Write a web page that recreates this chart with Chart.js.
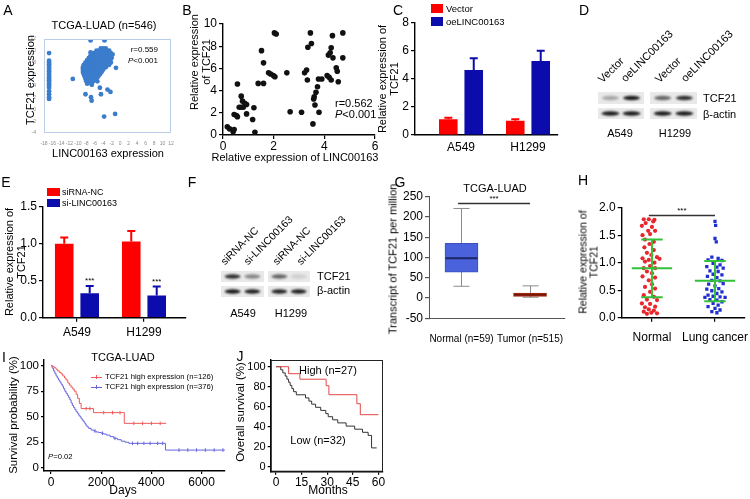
<!DOCTYPE html>
<html>
<head>
<meta charset="utf-8">
<script src="https://cdn.jsdelivr.net/npm/chart.js@4.4.0/dist/chart.umd.min.js"></script>
<style>
body { margin: 0; background: #fff; }
#fig { position: relative; width: 750px; height: 499px; overflow: hidden; font-family: "Liberation Sans", Arial, sans-serif; color: #000; }
#fig canvas { position: absolute; }
.t { position: absolute; white-space: nowrap; line-height: 1; text-align: center; }
</style>
</head>
<body>
<div id="fig"></div>
<script>
// ---------- data ----------

// A: TCGA scatter (LINC00163 vs TCF21)
const aColumnX = -16.8;
const aColumnY = [9.6, 8.3, 8.0, 7.7, 7.4, 7.1, 6.8, 6.5, 6.2, 5.9, 5.6, 5.3, 5.0, 4.7, 4.4, 4.1, 3.7, 3.1, 2.6, 2.1, 1.8];
const aRows = [
    [10.4, [-4.6, -4.0, -3.4]],
    [10.0, [-5.6, -5.0, -4.4, -3.8, -3.2, -2.6]],
    [9.6, [-6.4, -5.8, -5.2, -4.6, -4.0, -3.4, -2.8, -2.2]],
    [9.2, [-7.0, -6.4, -5.8, -5.2, -4.6, -4.0, -3.4, -2.8, -2.2]],
    [8.8, [-7.4, -6.8, -6.2, -5.6, -5.0, -4.4, -3.8, -3.2, -2.6, -2.0]],
    [8.4, [-7.8, -7.2, -6.6, -6.0, -5.4, -4.8, -4.2, -3.6, -3.0, -2.4]],
    [8.0, [-8.2, -7.6, -7.0, -6.4, -5.8, -5.2, -4.6, -4.0, -3.4, -2.8, -2.2]],
    [7.6, [-8.6, -8.0, -7.4, -6.8, -6.2, -5.6, -5.0, -4.4, -3.8, -3.2, -2.6]],
    [7.2, [-8.8, -8.2, -7.6, -7.0, -6.4, -5.8, -5.2, -4.6, -4.0, -3.4]],
    [6.8, [-8.8, -8.2, -7.6, -7.0, -6.4, -5.8, -5.2, -4.6, -4.0]],
    [6.4, [-8.8, -8.2, -7.6, -7.0, -6.4, -5.8, -5.2, -4.4]],
    [6.0, [-8.6, -8.0, -7.4, -6.8, -6.2, -5.6, -4.8]],
    [5.6, [-8.4, -7.8, -7.2, -6.6, -6.0, -5.2]],
    [5.2, [-8.2, -7.6, -7.0, -6.4, -5.6]],
    [4.8, [-8.0, -7.2, -6.4, -5.4]],
    [4.4, [-7.8, -6.8]]
];
const aOutliers = [
    [-7.0, 11.75], [-3.7, 11.75], [-7.0, 9.7], [-1.8, 9.4], [-1.0, 7.1], [-11.2, 5.2],
    [-8.2, 2.6], [-6.9, 2.1], [-6.75, 1.5], [-4.55, 2.6], [-4.8, 3.7], [-3.0, 3.4],
    [-2.3, 3.0], [-3.8, -1.2], [-1.2, -0.75], [-7.15, 4.7], [-6.7, 4.2]
];

// B: qPCR scatter
const bX = [0.17, 0.26, 0.4, 0.44, 0.44, 0.53, 0.57, 0.57, 0.64, 0.72, 0.72, 0.8, 0.77, 0.86, 0.93, 0.93,
    1.17, 1.22, 1.26, 1.39, 1.6, 1.6, 1.52, 1.8, 1.88, 1.99, 2.05, 2.03, 2.1, 2.52, 2.65, 3.1, 3.22,
    3.3, 3.33, 3.35, 3.45, 3.49, 3.55, 3.58, 3.6, 3.63, 3.67, 3.73, 3.77, 3.79, 3.9, 4.11, 4.19, 4.16,
    4.23, 4.27, 4.27, 4.32, 4.34, 4.47, 4.51, 4.55, 4.73, 4.73];
const bY = [0.75, 0.55, 0.3, 0.5, 1.85, 1.75, 1.65, 4.6, 2.5, 2.5, 3.5, 2.5, 3.05, 2.85, 2.75, 1.9,
    1.4, 2.45, 0.25, 4.65, 4.65, 6.5, 7.6, 5.6, 5.5, 5.35, 5.25, 9.2, 9.1, 5.6, 2.1, 2.05, 5.6,
    5.85, 4.95, 7.9, 9.2, 8.25, 1.0, 3.25, 3.45, 2.7, 3.85, 4.35, 5.05, 2.05, 5.05, 5.35, 5.2, 7.2,
    7.4, 7.85, 4.95, 8.95, 6.95, 6.05, 5.75, 4.8, 9.2, 6.95];

// C: overexpression bars
const cGroups = ['A549', 'H1299'];
const cSeries = ['Vector', 'oeLINC00163'];
const cColors = ['#ff0000', '#0c0cad'];
const cMeans = [[1.12, 1.02], [4.63, 5.27]];
const cErrors = [[0.1, 0.1], [0.83, 0.74]];

// E: knockdown bars
const eGroups = ['A549', 'H1299'];
const eSeries = ['siRNA-NC', 'si-LINC00163'];
const eColors = ['#ff0000', '#0c0cad'];
const eMeans = [[1.0, 1.03], [0.33, 0.3]];
const eErrors = [[0.085, 0.14], [0.1, 0.12]];
const eStars = [['', ''], ['***', '***']];

// G: TCGA box plot
const gGroups = ['Normal (n=59)', 'Tumor (n=515)'];
const gMin = [29, 2];
const gQ1 = [64, 4];
const gMedian = [98, 8];
const gQ3 = [135, 12.5];
const gMax = [221, 30];

// H: scatter dot plot, mean +/- SD
const hGroups = ['Normal', 'Lung cancer'];
const hNormal = [1.79, 1.79, 1.78, 1.72, 1.75, 1.67, 1.65, 1.58, 1.58, 1.5, 1.52, 1.42, 1.38, 1.34, 1.28, 1.23, 1.18,
    1.14, 1.08, 1.1, 1.05, 1.02, 1.0, 1.07, 0.94, 0.9, 0.9, 0.84, 0.81, 0.75, 0.73, 0.68, 0.61, 0.56, 0.53,
    0.47, 0.41, 0.38, 0.33, 0.32, 0.26, 0.25, 0.2, 0.19, 0.15, 0.13, 0.11, 0.09, 0.08, 0.07];
const hNormalJitter = [-0.13, -0.05, 0.04, -0.1, 0.02, -0.16, 0, -0.06, 0.05, -0.15, -0.03, -0.11, 0.03, -0.04,
    -0.12, 0.03, -0.08, -0.01, -0.15, 0.08, -0.05, -0.11, 0.04, 0.12, -0.03, -0.13, 0.05, -0.08, 0, -0.15, 0.05,
    -0.05, 0, -0.11, 0.05, -0.03, -0.13, 0.03, -0.08, 0.08, -0.16, -0.03, 0.05, -0.11, -0.05, 0.03, -0.13, -0.01,
    0.08, -0.08];
const hCancer = [1.75, 1.68, 1.44, 1.38, 1.1, 1.08, 1.05, 1.04, 0.99, 0.96, 0.93, 0.92, 0.9, 0.85, 0.84, 0.79,
    0.78, 0.75, 0.73, 0.68, 0.67, 0.62, 0.61, 0.58, 0.53, 0.52, 0.49, 0.47, 0.44, 0.41, 0.39, 0.38, 0.37, 0.37,
    0.33, 0.32, 0.29, 0.26, 0.23, 0.2, 0.17, 0.14, 0.11, 0.09];
const hCancerJitter = [0, 0.01, 0, 0.02, -0.05, 0.05, -0.11, 0.11, -0.03, 0.08, -0.13, 0.03, 0.13, -0.08, 0.05,
    -0.03, 0.11, -0.12, 0.03, -0.05, 0.08, 0.13, -0.1, 0, 0.06, -0.13, -0.05, 0.11, 0.03, -0.11, -0.03, 0.08,
    -0.16, 0.16, -0.08, 0.03, 0.11, -0.03, 0.05, -0.11, 0, 0.08, -0.05, 0.03];
const hMean = [0.9, 0.67];
const hSdLow = [0.37, 0.3];
const hSdHigh = [1.42, 1.03];

// I: TCGA Kaplan-Meier (days, %)
const iHighT = [0, 60, 130, 200, 260, 330, 400, 470, 540, 600, 670, 730, 800, 870, 930, 1000, 1060, 1130, 1200, 1690, 2920, 4590];
const iHighS = [100, 99, 98, 96.5, 95, 93.5, 92, 90, 88, 86, 83, 81, 79, 77, 75, 72, 68, 63, 58, 54, 43.5, 43.5];
const iLowT = [0, 50, 100, 150, 200, 250, 300, 350, 400, 450, 500, 550, 600, 650, 700, 750, 800, 850, 900, 950, 1000,
    1050, 1100, 1150, 1200, 1250, 1300, 1350, 1400, 1450, 1500, 1600, 1700, 1800, 1900, 2000, 2100, 2200, 2350,
    2500, 2650, 2800, 2950, 3100, 4560, 6930];
const iLowS = [100, 97.5, 95, 92.5, 90, 88, 86, 84, 82, 80, 77.5, 75, 73, 71, 69, 66.5, 63.5, 61, 59, 57, 55,
    53.5, 51.5, 50, 48, 46.5, 45, 43, 41, 40, 38.6, 37, 36, 35, 34.5, 33.8, 33, 32, 30.5, 28.8, 27.5, 26, 25,
    23.9, 17.3, 17.3];
const iHighCensor = [1400, 1550, 2100, 2450, 2750, 3300, 3650, 4000, 4350];
const iLowCensor = [1750, 2050, 2550, 3250, 3450, 3700, 3950, 4250, 4450, 5100, 5450, 5800, 6150, 6500, 6850];
const iSeries = ['TCF21 high expression (n=126)', 'TCF21 high expression (n=376)'];
const iTicksX = [0, 2000, 4000, 6000];
const iTicksY = [0, 25, 50, 75, 100];

// J: cohort Kaplan-Meier (months, %)
const jHighT = [0, 7.4, 14, 29.4, 31, 47.4, 49.4, 60];
const jHighS = [100, 93, 87.5, 81, 72, 63, 52, 52];
const jLowT = [0, 2.8, 4.0, 5.4, 6.4, 7.4, 8.3, 9.3, 10.3, 11.9, 17.3, 19.3, 20.9, 23.2, 26.2, 29.2, 30.6, 33.2,
    36.2, 41.1, 46.1, 50.7, 54.0, 56.0, 59.0];
const jLowS = [100, 96.9, 93.8, 90.6, 87.5, 84.4, 81.3, 78.1, 75.0, 71.9, 68.8, 65.6, 62.5, 59.4, 56.3, 53.1,
    50.0, 46.9, 43.8, 40.6, 37.5, 34.4, 31.3, 18.8, 18.8];
const jTicksX = [0, 15, 30, 45, 60];
const jTicksY = [0, 20, 40, 60, 80, 100];

// western blot band intensities (lanes left to right)
const dTcf21 = [0.3, 0.95, 0.6, 0.85];
const dActin = [0.95, 0.95, 0.95, 0.95];
const fTcf21 = [0.85, 0.45, 0.6, 0.12];
const fActin = [0.95, 0.92, 0.9, 0.92];

// ---------- helpers ----------
const fig = document.getElementById('fig');
const FONT = '"Liberation Sans", Arial, sans-serif';

Chart.defaults.font.family = FONT;
Chart.defaults.color = '#000';
Chart.defaults.animation = false;
Chart.defaults.responsive = false;
Chart.defaults.devicePixelRatio = 1;
Chart.defaults.plugins.legend.display = false;
Chart.defaults.plugins.tooltip.enabled = false;

function label(html, x, y, size, opt = {}) {
    const d = document.createElement('div');
    d.className = 't';
    d.innerHTML = html;
    d.style.fontSize = size + 'px';
    if (opt.lh) d.style.lineHeight = opt.lh + 'px';
    d.style.left = x + 'px';
    d.style.top = y + 'px';
    const ax = opt.align === 'left' ? '0' : opt.align === 'right' ? '-100%' : '-50%';
    d.style.transform = `translate(${ax},-50%)` + (opt.rot ? ` rotate(${opt.rot}deg)` : '');
    fig.appendChild(d);
}

function slant(text, x, y, size) {
    const d = document.createElement('div');
    d.className = 't';
    d.textContent = text;
    d.style.fontSize = size + 'px';
    d.style.left = x + 'px';
    d.style.top = (y - size) + 'px';
    d.style.transformOrigin = '0 100%';
    d.style.transform = 'rotate(-45deg)';
    fig.appendChild(d);
}

function swatch(x, y, w, h, color) {
    const d = document.createElement('div');
    d.style.cssText = `position:absolute;left:${x}px;top:${y}px;width:${w}px;height:${h}px;background:${color}`;
    fig.appendChild(d);
}

function axis(min, max, o = {}) {
    return {
        type: 'linear', min, max, offset: false,
        grid: { display: o.grid !== false, drawOnChartArea: false, drawTicks: true, tickLength: o.tl ?? 4,
            color: o.color || '#000', lineWidth: 1.2, offset: false },
        border: { display: o.border !== false, color: o.color || '#000', width: o.bw ?? 1.4 },
        ticks: { autoSkip: false, maxRotation: 0, padding: o.pad ?? 2, color: o.tc || '#000',
            font: { size: o.fs || 11 }, stepSize: o.step, callback: o.cb },
        afterBuildTicks: o.ticks ? s => { s.ticks = o.ticks.map(v => ({ value: v })); } : undefined
    };
}

// box = canvas [x, y, w, h]; area = plot area [left, top, right, bottom], page pixels
function place(box, area, config) {
    const cv = document.createElement('canvas');
    cv.width = box[2];
    cv.height = box[3];
    cv.style.left = box[0] + 'px';
    cv.style.top = box[1] + 'px';
    fig.appendChild(cv);
    const o = config.options;
    o.layout = { padding: { left: 0, top: area[1] - box[1], right: box[0] + box[2] - area[2], bottom: 0 } };
    o.scales.x.afterFit = s => { s.height = box[1] + box[3] - area[3]; s.paddingLeft = 0; s.paddingRight = 0; };
    o.scales.y.afterFit = s => { s.width = area[0] - box[0]; s.paddingTop = 0; s.paddingBottom = 0; };
    return new Chart(cv, config);
}

const frame = color => ({
    id: 'frame',
    afterDraw(chart) {
        const { ctx, chartArea: a } = chart;
        ctx.save();
        ctx.strokeStyle = color;
        ctx.lineWidth = 1;
        ctx.strokeRect(a.left + 0.5, a.top + 0.5, a.right - a.left - 1, a.bottom - a.top - 1);
        ctx.restore();
    }
});

const errorBars = (errs, stars) => ({
    id: 'errorBars',
    afterDatasetsDraw(chart) {
        const { ctx } = chart;
        const y = chart.scales.y;
        chart.data.datasets.forEach((ds, di) => {
            chart.getDatasetMeta(di).data.forEach((bar, i) => {
                const top = y.getPixelForValue(ds.data[i].y + errs[di][i]);
                ctx.save();
                ctx.strokeStyle = ds.backgroundColor;
                ctx.lineWidth = 2;
                ctx.beginPath();
                ctx.moveTo(bar.x, bar.y);
                ctx.lineTo(bar.x, top);
                ctx.moveTo(bar.x - 4, top);
                ctx.lineTo(bar.x + 4, top);
                ctx.stroke();
                if (stars && stars[di][i]) {
                    ctx.fillStyle = '#000';
                    ctx.font = '8px ' + FONT;
                    ctx.textAlign = 'center';
                    ctx.fillText(stars[di][i], bar.x, top - 3);
                }
                ctx.restore();
            });
        });
    }
});

const sigBar = (from, to, at, text) => ({
    id: 'sigBar',
    afterDatasetsDraw(chart) {
        const { ctx, scales: { x, y } } = chart;
        const py = Math.round(y.getPixelForValue(at)) + 0.5;
        ctx.save();
        ctx.strokeStyle = '#333';
        ctx.lineWidth = 1.3;
        ctx.beginPath();
        ctx.moveTo(x.getPixelForValue(from), py);
        ctx.lineTo(x.getPixelForValue(to), py);
        ctx.stroke();
        ctx.fillStyle = '#000';
        ctx.font = '8px ' + FONT;
        ctx.textAlign = 'center';
        ctx.fillText(text, (x.getPixelForValue(from) + x.getPixelForValue(to)) / 2, py - 3);
        ctx.restore();
    }
});

const whiskers = {
    id: 'whiskers',
    beforeDatasetsDraw(chart) {
        const { ctx, scales: { x, y } } = chart;
        ctx.save();
        ctx.strokeStyle = '#8a8a8a';
        ctx.lineWidth = 1;
        gMin.forEach((lo, i) => {
            const px = Math.round(x.getPixelForValue(i)) + 0.5;
            const yl = y.getPixelForValue(lo), yh = y.getPixelForValue(gMax[i]);
            ctx.beginPath();
            ctx.moveTo(px, yl); ctx.lineTo(px, yh);
            ctx.moveTo(px - 8, yl); ctx.lineTo(px + 8, yl);
            ctx.moveTo(px - 8, yh); ctx.lineTo(px + 8, yh);
            ctx.stroke();
        });
        ctx.restore();
    },
    afterDatasetsDraw(chart) {
        const { ctx, scales: { x, y } } = chart;
        const colors = ['#1c2566', '#7a1505'];
        ctx.save();
        ctx.lineWidth = 2;
        gMedian.forEach((m, i) => {
            const px = x.getPixelForValue(i), py = y.getPixelForValue(m);
            ctx.strokeStyle = colors[i];
            ctx.beginPath();
            ctx.moveTo(px - 16, py); ctx.lineTo(px + 16, py);
            ctx.stroke();
        });
        ctx.restore();
    }
};

const meanSd = {
    id: 'meanSd',
    afterDatasetsDraw(chart) {
        const { ctx, scales: { x, y } } = chart;
        const unit = x.getPixelForValue(1) - x.getPixelForValue(0);
        ctx.save();
        ctx.strokeStyle = '#33c03a';
        ctx.lineWidth = 2;
        hMean.forEach((m, i) => {
            const px = x.getPixelForValue(i);
            const lo = y.getPixelForValue(hSdLow[i]), hi = y.getPixelForValue(hSdHigh[i]);
            const my = y.getPixelForValue(m);
            ctx.beginPath();
            ctx.moveTo(px, lo); ctx.lineTo(px, hi);
            ctx.moveTo(px - unit * 0.17, lo); ctx.lineTo(px + unit * 0.17, lo);
            ctx.moveTo(px - unit * 0.17, hi); ctx.lineTo(px + unit * 0.17, hi);
            ctx.moveTo(px - unit * 0.32, my); ctx.lineTo(px + unit * 0.32, my);
            ctx.stroke();
        });
        ctx.restore();
    }
};

const toPoints = (xs, ys) => xs.map((v, k) => ({ x: v, y: ys[k] }));
// survival value of a step curve at time t (for the censor ticks)
const survAt = (ts, ss, t) => {
    let s = ss[0];
    ts.forEach((v, k) => { if (v <= t) s = ss[k]; });
    return s;
};

// ---------- A ----------
const aPoints = aColumnY.map(v => ({ x: aColumnX, y: v }))
    .concat(aRows.flatMap(([y, xs]) => xs.map(v => ({ x: v, y }))))
    .concat(aOutliers.map(([x, y]) => ({ x, y })));
place([0, 20, 190, 145], [44, 39, 171, 133], {
    type: 'scatter',
    data: { datasets: [{ data: aPoints, backgroundColor: '#3b7dcc', borderWidth: 0, pointRadius: 2.4 }] },
    options: {
        scales: {
            x: axis(-18, 12, { step: 2, grid: false, border: false, fs: 5, tc: '#8a8a8a', pad: 4 }),
            y: axis(-4, 12, { step: 2, grid: false, border: false, fs: 5, tc: '#8a8a8a', pad: 4 })
        }
    },
    plugins: [frame('#b9cde6')]
});

// ---------- B ----------
place([178, 10, 202, 150], [223, 24, 375, 135], {
    type: 'scatter',
    data: { datasets: [{ data: toPoints(bX, bY), backgroundColor: '#111', borderWidth: 0, pointRadius: 2.8 }] },
    options: {
        scales: {
            x: axis(0, 6, { step: 2, fs: 12, pad: 0 }),
            y: axis(0, 10, { step: 2, fs: 12 })
        }
    }
});

// ---------- C ----------
place([370, 10, 195, 150], [415, 22.7, 558, 135], {
    type: 'bar',
    data: {
        datasets: cSeries.map((s, k) => ({
            label: s, backgroundColor: cColors[k],
            data: cGroups.map((g, i) => ({ x: i, y: cMeans[k][i] }))
        }))
    },
    options: {
        categoryPercentage: 0.76, barPercentage: 0.73,
        scales: {
            x: axis(-0.687, 1.448, { grid: false, ticks: [0, 1], cb: v => cGroups[v], fs: 12, pad: 1 }),
            y: axis(0, 8, { step: 2, fs: 12 })
        }
    },
    plugins: [errorBars(cErrors)]
});

// ---------- E ----------
place([0, 190, 195, 150], [43, 206.7, 186, 317.7], {
    type: 'bar',
    data: {
        datasets: eSeries.map((s, k) => ({
            label: s, backgroundColor: eColors[k],
            data: eGroups.map((g, i) => ({ x: i, y: eMeans[k][i] }))
        }))
    },
    options: {
        categoryPercentage: 0.76, barPercentage: 0.73,
        scales: {
            x: axis(-0.507, 1.627, { ticks: [0, 1], cb: v => eGroups[v], fs: 12, pad: 4 }),
            y: axis(0, 1.5, { step: 0.5, fs: 12, cb: v => v.toFixed(1) })
        }
    },
    plugins: [errorBars(eErrors, eStars)]
});

// ---------- G ----------
place([380, 185, 195, 160], [429, 196.7, 565, 318.3], {
    type: 'bar',
    data: {
        datasets: [{
            data: gGroups.map((g, i) => ({ x: i, y: [gQ1[i], gQ3[i]] })),
            backgroundColor: ['#4a62dc', '#c8401c'],
            borderColor: ['#3a50c0', '#9a2a10'],
            borderWidth: 1, borderSkipped: false, barThickness: 33
        }]
    },
    options: {
        scales: {
            x: axis(-0.474, 1.51, { grid: false, ticks: [0, 1], cb: v => gGroups[v], fs: 10, pad: 11, color: '#555', bw: 1 }),
            y: axis(-50, 250, { step: 50, fs: 12, color: '#555', bw: 1 })
        }
    },
    plugins: [whiskers, sigBar(-0.05, 1.0, 235, '***')]
});

// ---------- H ----------
place([570, 190, 180, 160], [621.7, 207.7, 745, 317.7], {
    type: 'scatter',
    data: {
        datasets: [
            { data: hNormal.map((v, k) => ({ x: hNormalJitter[k], y: v })), backgroundColor: '#e8262c',
                borderWidth: 0, pointRadius: 2.1 },
            { data: hCancer.map((v, k) => ({ x: 1 + hCancerJitter[k], y: v })), backgroundColor: '#1f2fd0',
                borderWidth: 0, pointRadius: 2.3, pointStyle: 'rect' }
        ]
    },
    options: {
        scales: {
            x: axis(-0.48, 1.476, { ticks: [0, 1], cb: v => hGroups[v], fs: 12, pad: 9 }),
            y: axis(0, 2, { step: 0.5, fs: 12, cb: v => v.toFixed(1) })
        }
    },
    plugins: [meanSd, sigBar(-0.05, 1.0, 1.87, '***')]
});

// ---------- I ----------
const iColors = ['#ee5a5a', '#6565e0'];
const censorSet = (ts, ss, cs, color) => ({
    type: 'scatter', data: cs.map(t => ({ x: t, y: survAt(ts, ss, t) })),
    borderColor: color, borderWidth: 1, pointStyle: 'line', rotation: 90, pointRadius: 1.8, showLine: false
});
place([0, 340, 240, 159], [44, 360, 225, 471], {
    type: 'line',
    data: {
        datasets: [
            { data: toPoints(iHighT, iHighS), borderColor: iColors[0], borderWidth: 1, pointRadius: 0, stepped: true },
            { data: toPoints(iLowT, iLowS), borderColor: iColors[1], borderWidth: 1, pointRadius: 0, stepped: true },
            censorSet(iHighT, iHighS, iHighCensor, iColors[0]),
            censorSet(iLowT, iLowS, iLowCensor, iColors[1])
        ]
    },
    options: {
        scales: {
            x: axis(-279, 6932, { ticks: iTicksX, fs: 12, tl: 3, pad: 1 }),
            y: axis(-3.2, 105.6, { ticks: iTicksY, fs: 11.5, tl: 3 })
        }
    }
});

// ---------- J ----------
place([225, 340, 165, 159], [270.7, 360, 383, 471.7], {
    type: 'line',
    data: {
        datasets: [
            { data: toPoints(jHighT, jHighS), borderColor: '#e04848', borderWidth: 1, pointRadius: 0, stepped: true },
            { data: toPoints(jLowT, jLowS), borderColor: '#333', borderWidth: 1, pointRadius: 0, stepped: true }
        ]
    },
    options: {
        scales: {
            x: axis(-3.1, 62.7, { ticks: jTicksX, fs: 12, tl: 3, pad: 1 }),
            y: axis(-5, 106.7, { ticks: jTicksY, fs: 11, tl: 3 })
        }
    },
    plugins: [frame('#222')]
});

// ---------- western blots ----------
const blotCanvas = document.createElement('canvas');
blotCanvas.width = 750;
blotCanvas.height = 499;
blotCanvas.style.left = '0px';
blotCanvas.style.top = '0px';
fig.insertBefore(blotCanvas, fig.firstChild);
const bctx = blotCanvas.getContext('2d');

function blotRow(x0, y0, w, h, lanes, bandW, bandH) {
    bctx.save();
    bctx.fillStyle = '#e9e9e9';
    bctx.fillRect(x0, y0, w, h);
    bctx.filter = 'blur(1.1px)';
    lanes.forEach((a, k) => {
        const cx = x0 + w * (k === 0 ? 0.27 : 0.73);
        bctx.fillStyle = `rgba(15,15,15,${a})`;
        bctx.beginPath();
        bctx.ellipse(cx, y0 + h / 2, bandW / 2, bandH / 2, 0, 0, Math.PI * 2);
        bctx.fill();
    });
    bctx.restore();
}
// D
blotRow(598, 92, 46, 12, dTcf21.slice(0, 2), 17, 4.5);
blotRow(650, 92, 47, 12, dTcf21.slice(2), 17, 4.5);
blotRow(598, 108, 46, 11, dActin.slice(0, 2), 18, 4.5);
blotRow(650, 108, 47, 11, dActin.slice(2), 18, 4.5);
// F
blotRow(221, 271, 43, 11, fTcf21.slice(0, 2), 16, 4.5);
blotRow(268, 271, 42, 11, fTcf21.slice(2), 16, 4.5);
blotRow(221, 286, 43, 11, fActin.slice(0, 2), 16, 4.5);
blotRow(268, 286, 42, 11, fActin.slice(2), 16, 4.5);

// ---------- text ----------
[['A', 8, 10], ['B', 187, 10], ['C', 398, 10], ['D', 584, 10], ['E', 6, 182], ['F', 192, 182],
 ['G', 400, 182], ['H', 583, 180], ['I', 4, 357], ['J', 240, 356]].forEach(([s, x, y]) => label(s, x, y, 14));

// A
label('TCGA-LUAD (n=546)', 104, 25, 11);
label('r=0.559', 158, 50, 8, { align: 'right' });
label('<i>P</i>&lt;0.001', 158, 61, 8, { align: 'right' });
label('TCF21 expression', 30, 80, 11, { rot: -90 });
label('LINC00163 expression', 108, 153, 11);

// B
label('Relative expression<br>of TCF21', 200, 62, 11, { rot: -90, lh: 12 });
label('Relative expression of LINC00163', 295, 157, 11);
label('r=0.562', 335, 103, 11, { align: 'left' });
label('<i>P</i>&lt;0.001', 335, 114, 11, { align: 'left' });

// C
label('Relative expression of<br>TCF21', 388, 79, 11, { rot: -90, lh: 12 });
cSeries.forEach((s, k) => {
    swatch(431, 4 + 13 * k, 12, 9, cColors[k]);
    label(s, 446, 8.5 + 13 * k, 9.5, { align: 'left' });
});

// D
slant('Vector', 604, 85, 11);
slant('oeLINC00163', 627, 84, 11);
slant('Vector', 661, 85, 11);
slant('oeLINC00163', 687, 84, 11);
label('TCF21', 703, 98, 11, { align: 'left' });
label('β-actin', 703, 114, 11, { align: 'left' });
label('A549', 620, 133, 11);
label('H1299', 675, 133, 11);

// E
label('Relative expression of<br>TCF21', 15, 262, 11, { rot: -90, lh: 12 });
eSeries.forEach((s, k) => {
    swatch(47, 188 + 11 * k, 13, 8, eColors[k]);
    label(s, 62, 192 + 11 * k, 9, { align: 'left' });
});

// F
slant('siRNA-NC', 226, 266, 10.5);
slant('si-LINC00163', 249, 266, 10.5);
slant('siRNA-NC', 278, 266, 10.5);
slant('si-LINC00163', 302, 266, 10.5);
label('TCF21', 317, 276, 11, { align: 'left' });
label('β-actin', 317, 290, 11, { align: 'left' });
label('A549', 243, 313, 11);
label('H1299', 291, 313, 11);

// G
label('TCGA-LUAD', 495, 188, 11);
label('Transcript of TCF21 per million', 393, 259, 11, { rot: -90 });

// H
label('Relative expression of<br>TCF21', 588, 262, 10.5, { rot: -90, lh: 10.5 });

// I
label('TCGA-LUAD', 123, 357, 11);
iSeries.forEach((s, k) => {
    swatch(91, 376.5 + 10 * k, 11, 1, iColors[k]);
    swatch(96, 375 + 10 * k, 1, 4, iColors[k]);
    label(s, 105, 377 + 10 * k, 7.7, { align: 'left' });
});
label('<i>P</i>=0.02', 48, 457, 7.7, { align: 'left' });
label('Survival probability (%)', 14, 415, 11.5, { rot: -90 });
label('Days', 123, 490, 12);

// J
label('High (n=27)', 328, 370, 11);
label('Low (n=32)', 318, 440, 11);
label('Overall survival (%)', 241, 412, 11.5, { rot: -90 });
label('Months', 328, 490, 12);
</script>
</body>
</html>
